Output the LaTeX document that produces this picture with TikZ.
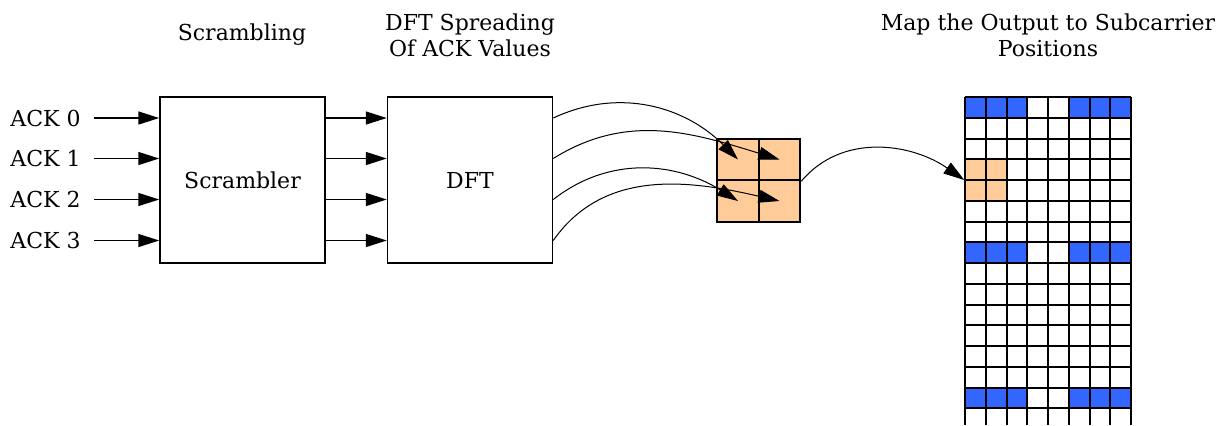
\documentclass[tikz,border=0pt]{standalone}
\usepackage{fontspec}
\setmainfont{DejaVu Serif}
\usetikzlibrary{arrows.meta}
\definecolor{peach}{HTML}{FFCC99}
\definecolor{slotblue}{HTML}{3366FF}

\begin{document}
\begin{tikzpicture}[x=.5pt, y=-.5pt, font=\fontsize{11}{13}\selectfont, line width=.75pt,
  >={Triangle[length=10.5pt,width=6.5pt]},
  block/.style={draw, minimum width=82.5pt, minimum height=83pt},
  cell/.style={draw, fill=peach, minimum size=20.75pt, inner sep=0pt, line width=1pt},
  title/.style={align=center}]
\useasboundingbox (0,0) rectangle (1225,425);
% titles over the stages
\node[title] (t1) at (242,35) {Scrambling};
\node[title] (t2) at (470,35) {DFT Spreading\\Of ACK Values};
\node[title] (t3) at (1048,35) {Map the Output to Subcarrier\\Positions};
% scrambler and DFT
\node[block] (scr) at (242.5,180) {Scrambler};
\node[block] (dft) at (470,180) {DFT};
\foreach \i/\y in {0/118,1/158.5,2/199.5,3/240.5}{
  \node[anchor=west] (ack\i) at (3,\y) {ACK \i};
  \draw[->] ([xshift=3pt]ack\i.east) -- (ack\i -| scr.west);
  \draw[->] (scr.east |- ack\i) -- (dft.west |- ack\i);
}
% 2x2 block of spread values
\node[cell] (sa) at (738,159.5) {};
\node[cell] (sb) at (779.5,159.5) {};
\node[cell] (sc) at (738,201) {};
\node[cell] (sd) at (779.5,201) {};
\draw[->, line width=.5pt] (dft.east |- ack0) to[out=25, in=135] (sa.center);
\draw[->, line width=.5pt] (dft.east |- ack1) to[out=32, in=163] (sb.center);
\draw[->, line width=.5pt] (dft.east |- ack2) to[out=38, in=148] (sc.center);
\draw[->, line width=.5pt] (dft.east |- ack3) to[out=55, in=167] (sd.center);
% subcarrier grid
\foreach \r in {0,7,14}
  \foreach \c in {0,1,2,5,6,7}
    \fill[slotblue] ({965+\c*20.75},{97+\r*20.75}) rectangle ++(20.75,20.75);
\node[fill=peach, minimum size=20.75pt, inner sep=0pt] (blk) at (985.75,180) {};
\foreach \c in {0,...,8}
  \draw[line width=1pt] ({965+\c*20.75},97) -- ++(0,328);
\foreach \r in {0,...,15}
  \draw[line width=1pt] (965,{97+\r*20.75}) -- (1131,{97+\r*20.75});
\draw[->, line width=.5pt] (sb.south east) to[out=50, in=145] (blk.west);
\end{tikzpicture}
\end{document}
